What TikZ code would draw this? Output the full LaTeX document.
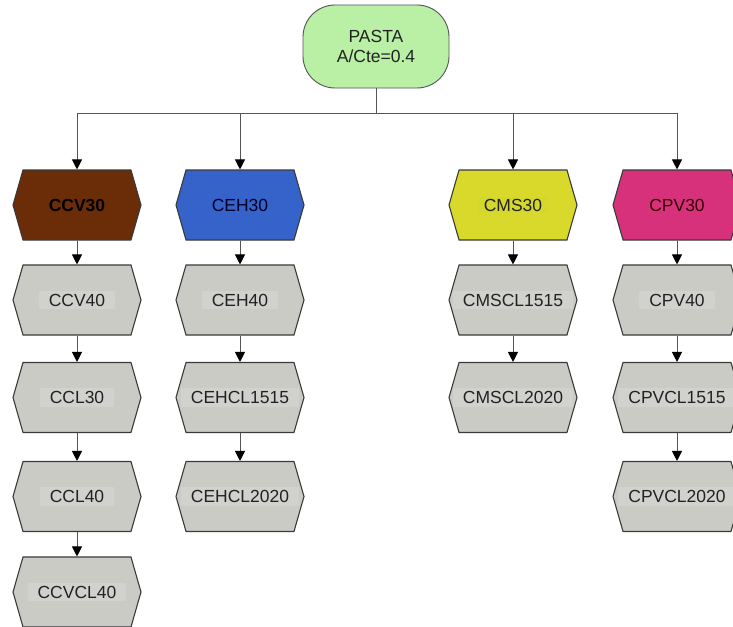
\documentclass[tikz,border=0pt]{standalone}
\usepackage{fontspec}
\setmainfont{Liberation Sans}
\usetikzlibrary{shapes.symbols,arrows.meta}

\definecolor{rootfill}{HTML}{B9F0A5}
\definecolor{edge}{HTML}{3A3A3A}
\definecolor{wire}{HTML}{555555}
\definecolor{boxgray}{HTML}{CBCBC6}
\definecolor{taggray}{HTML}{D1D1CD}
\definecolor{ccvfill}{HTML}{6B2D07}
\definecolor{cehfill}{HTML}{3563C9}
\definecolor{cmsfill}{HTML}{D9D92B}
\definecolor{cmstag}{HTML}{D4D82E}
\definecolor{cpvfill}{HTML}{D8317C}
\definecolor{txt}{HTML}{222222}

\begin{document}
\begin{tikzpicture}[x=1pt,y=-1pt,
  hexbox/.style={signal, signal to=west and east, signal pointer angle=148,
    minimum width=128pt, minimum height=70pt, inner sep=0pt,
    draw=edge, line width=1.1pt},
  tag/.style={fill=taggray, inner xsep=10pt, inner ysep=3pt,
    font=\fontsize{17.5}{20}\selectfont, text=txt},
  toptag/.style={inner sep=2pt, font=\fontsize{17.5}{20}\selectfont},
  link/.style={draw=wire, line width=0.9pt,
    -{Triangle[width=10pt,length=10pt,color=black,fill=black]}},
  bus/.style={draw=wire, line width=0.9pt}]

% page
\fill[white] (0,0) rectangle (733,626);
\useasboundingbox (0,0) rectangle (733,626);

% root
\node[draw=wire, line width=0.9pt, fill=rootfill, rounded corners=32pt,
  minimum width=146pt, minimum height=83pt, align=center,
  font=\fontsize{17.5}{20}\selectfont, text=txt] (root) at (376,46.5)
  {PASTA\\A/Cte=0.4};

% first level
\node[hexbox, fill=ccvfill] (ccv30) at (77,205) {};
\node[toptag, text=black, font=\fontsize{17.5}{20}\bfseries] (ccv30-t) at (ccv30) {CCV30};
\node[hexbox, fill=cehfill] (ceh30) at (240,205) {};
\node[toptag, text=black!85!blue] (ceh30-t) at (ceh30) {CEH30};
\node[hexbox, fill=cmsfill] (cms30) at (513,205) {};
\node[toptag, fill=cmstag, inner xsep=6pt, text=txt] (cms30-t) at (cms30) {CMS30};
\node[hexbox, fill=cpvfill] (cpv30) at (677,205) {};
\node[toptag, text=black!80!red] (cpv30-t) at (cpv30) {CPV30};

% CCV column
\node[hexbox, fill=boxgray] (ccv40) at (77,300) {};
\node[tag] (ccv40-t) at (ccv40) {CCV40};
\node[hexbox, fill=boxgray] (ccl30) at (77,397.5) {};
\node[tag] (ccl30-t) at (ccl30) {CCL30};
\node[hexbox, fill=boxgray] (ccl40) at (77,496.5) {};
\node[tag] (ccl40-t) at (ccl40) {CCL40};
\node[hexbox, fill=boxgray] (ccvcl40) at (77,592) {};
\node[tag] (ccvcl40-t) at (ccvcl40) {CCVCL40};

% CEH column
\node[hexbox, fill=boxgray] (ceh40) at (240,300) {};
\node[tag] (ceh40-t) at (ceh40) {CEH40};
\node[hexbox, fill=boxgray] (cehcl1515) at (240,397.5) {};
\node[tag] (cehcl1515-t) at (cehcl1515) {CEHCL1515};
\node[hexbox, fill=boxgray] (cehcl2020) at (240,496.5) {};
\node[tag] (cehcl2020-t) at (cehcl2020) {CEHCL2020};

% CMS column
\node[hexbox, fill=boxgray] (cmscl1515) at (513,300) {};
\node[tag] (cmscl1515-t) at (cmscl1515) {CMSCL1515};
\node[hexbox, fill=boxgray] (cmscl2020) at (513,397.5) {};
\node[tag] (cmscl2020-t) at (cmscl2020) {CMSCL2020};

% CPV column
\node[hexbox, fill=boxgray] (cpv40) at (677,300) {};
\node[tag] (cpv40-t) at (cpv40) {CPV40};
\node[hexbox, fill=boxgray] (cpvcl1515) at (677,397.5) {};
\node[tag] (cpvcl1515-t) at (cpvcl1515) {CPVCL1515};
\node[hexbox, fill=boxgray] (cpvcl2020) at (677,496.5) {};
\node[tag] (cpvcl2020-t) at (cpvcl2020) {CPVCL2020};

% fan-out from the root
\coordinate (split) at (376,113);
\draw[bus] (root.south) -- (split);
\draw[link] (split) -| (ccv30.north);
\draw[link] (split) -| (ceh30.north);
\draw[link] (split) -| (cms30.north);
\draw[link] (split) -| (cpv30.north);

% chains
\draw[link] (ccv30.south) -- (ccv40.north);
\draw[link] (ccv40.south) -- (ccl30.north);
\draw[link] (ccl30.south) -- (ccl40.north);
\draw[link] (ccl40.south) -- (ccvcl40.north);
\draw[link] (ceh30.south) -- (ceh40.north);
\draw[link] (ceh40.south) -- (cehcl1515.north);
\draw[link] (cehcl1515.south) -- (cehcl2020.north);
\draw[link] (cms30.south) -- (cmscl1515.north);
\draw[link] (cmscl1515.south) -- (cmscl2020.north);
\draw[link] (cpv30.south) -- (cpv40.north);
\draw[link] (cpv40.south) -- (cpvcl1515.north);
\draw[link] (cpvcl1515.south) -- (cpvcl2020.north);
\end{tikzpicture}
\end{document}
